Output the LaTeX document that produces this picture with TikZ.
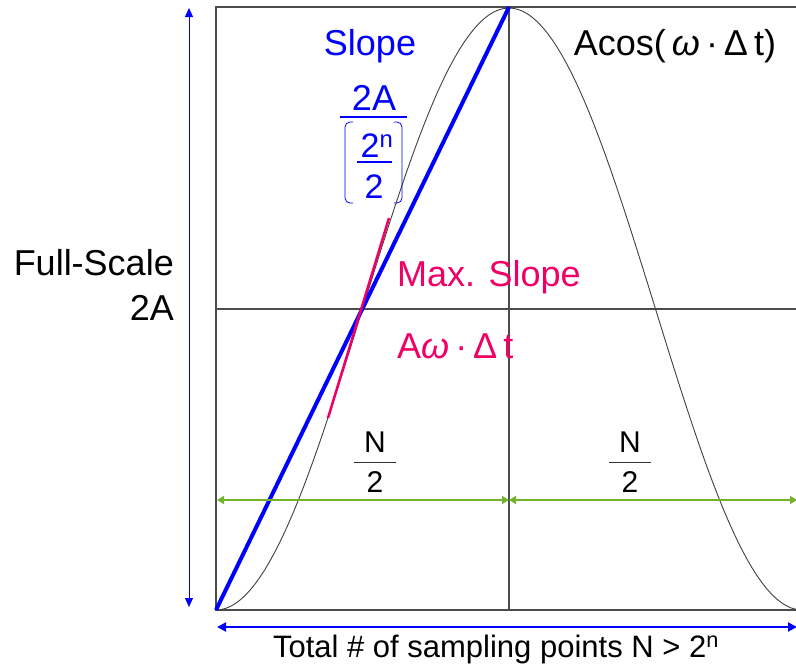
\documentclass[tikz,border=0pt]{standalone}
\usepackage{fontspec}
\setmainfont{Liberation Sans}
\usetikzlibrary{arrows.meta}
\definecolor{slopeblue}{RGB}{0,0,255}
\definecolor{maxred}{RGB}{240,0,100}
\definecolor{halfgreen}{RGB}{115,178,45}

\begin{document}
\begin{tikzpicture}[
    x=1pt, y=-1pt,
    grid/.style={draw=black!70, line width=1.4pt},
    curve/.style={draw=black!75, line width=0.9pt},
    label/.style={inner sep=0pt, font=\fontsize{36}{40}\selectfont},
    small/.style={inner sep=0pt, font=\fontsize{30}{34}\selectfont},
    inner/.style={inner sep=0pt, font=\fontsize{34}{38}\selectfont},
    fsarrow/.style={{Triangle[length=9pt,width=8pt]}-{Triangle[length=9pt,width=8pt]}, draw=slopeblue, line width=0.8pt},
    narrow/.style={{Triangle[length=9pt,width=9pt]}-{Triangle[length=9pt,width=9pt]}, draw=slopeblue, line width=2pt},
    halfarrow/.style={{Triangle[length=7pt,width=8pt]}-{Triangle[length=7pt,width=8pt]}, draw=halfgreen, line width=1.6pt}
]
\useasboundingbox (0,0) rectangle (796,667);

% ====================
%        Frame
% ====================
\coordinate (bl) at (216,610);
\coordinate (tl) at (216,7);
\coordinate (tr) at (796,7);
\coordinate (br) at (796,610);
\coordinate (peak) at (509,7);
\coordinate (foot) at (509,610);
\coordinate (ml) at (216,309);
\coordinate (mr) at (796,309);

\draw[grid] (tr) -- (tl) -- (bl) -- (br);
\draw[grid] (peak) -- (foot);
\draw[grid] (ml) -- (mr);

% Cosine
\draw[curve] plot[domain=216:796, samples=120] (\x, {309-301*cos((\x-509)/293*180)});

% Slopes
\coordinate (tan_lo) at (328,418);
\coordinate (tan_hi) at (389,218);
\draw[slopeblue, line width=4pt] (bl) -- (peak);
\draw[maxred, line width=2.5pt] (tan_lo) -- (tan_hi);

% ====================
%       Arrows
% ====================
\coordinate (fs_top) at (189,8);
\coordinate (fs_bot) at (189,607);
\draw[fsarrow] (fs_bot) -- (fs_top);

\coordinate (n_lo) at (217,627);
\coordinate (n_hi) at (797,627);
\draw[narrow] (n_lo) -- (n_hi);

\coordinate (h_l) at (217,500);
\coordinate (h_m) at (509,500);
\coordinate (h_r) at (797,500);
\draw[halfarrow] (h_l) -- (h_m);
\draw[halfarrow] (h_m) -- (h_r);

% ====================
%       Labels
% ====================
\node[label, anchor=base east] (fs1) at (174,275) {Full-Scale};
\node[label, anchor=base east] (fs2) at (174,320) {2A};

\node[label, text=slopeblue, anchor=base] (slope) at (370,55) {Slope};
\node[label, anchor=base] (acos) at (675,55) {Acos(\,\textit{ω}\,·\,Δ\,t)};

% Slope fraction
\node[label, text=slopeblue, anchor=base] (two_a) at (374,110) {2A};
\draw[slopeblue, line width=1.3pt] (340,117) coordinate (fr_l) -- (407,117) coordinate (fr_r);
\draw[slopeblue, line width=0.8pt, rounded corners=5pt]
    (353,122) -- (345,122) -- (345,203) -- (353,203);
\draw[slopeblue, line width=0.8pt, rounded corners=5pt]
    (394,122) -- (402,122) -- (402,203) -- (394,203);
\node[inner, text=slopeblue, anchor=base] (two_n) at (377,157) {2\textsuperscript{n}};
\draw[slopeblue, line width=1.3pt] (357,162) coordinate (in_l) -- (392,162) coordinate (in_r);
\node[inner, text=slopeblue, anchor=base] (two) at (374,198) {2};

\node[label, text=maxred, anchor=base west] (maxs) at (397,286) {Max. Slope};
\node[label, text=maxred, anchor=base west] (aw) at (397,358) {A\textit{ω}\,·\,Δ\,t};

% Half-period fractions
\foreach \cx/\nm in {375/left, 630/right} {
  \node[small, anchor=base] (n_\nm) at (\cx,452) {N};
  \draw[black!80, line width=1pt] (\cx-21,462) -- (\cx+21,462);
  \node[small, anchor=base] (d_\nm) at (\cx,492) {2};
}

\node[inner sep=0pt, font=\fontsize{31}{34}\selectfont, anchor=base] (total) at (496,657)
    {Total \# of sampling points N > 2\textsuperscript{n}};

\end{tikzpicture}
\end{document}
